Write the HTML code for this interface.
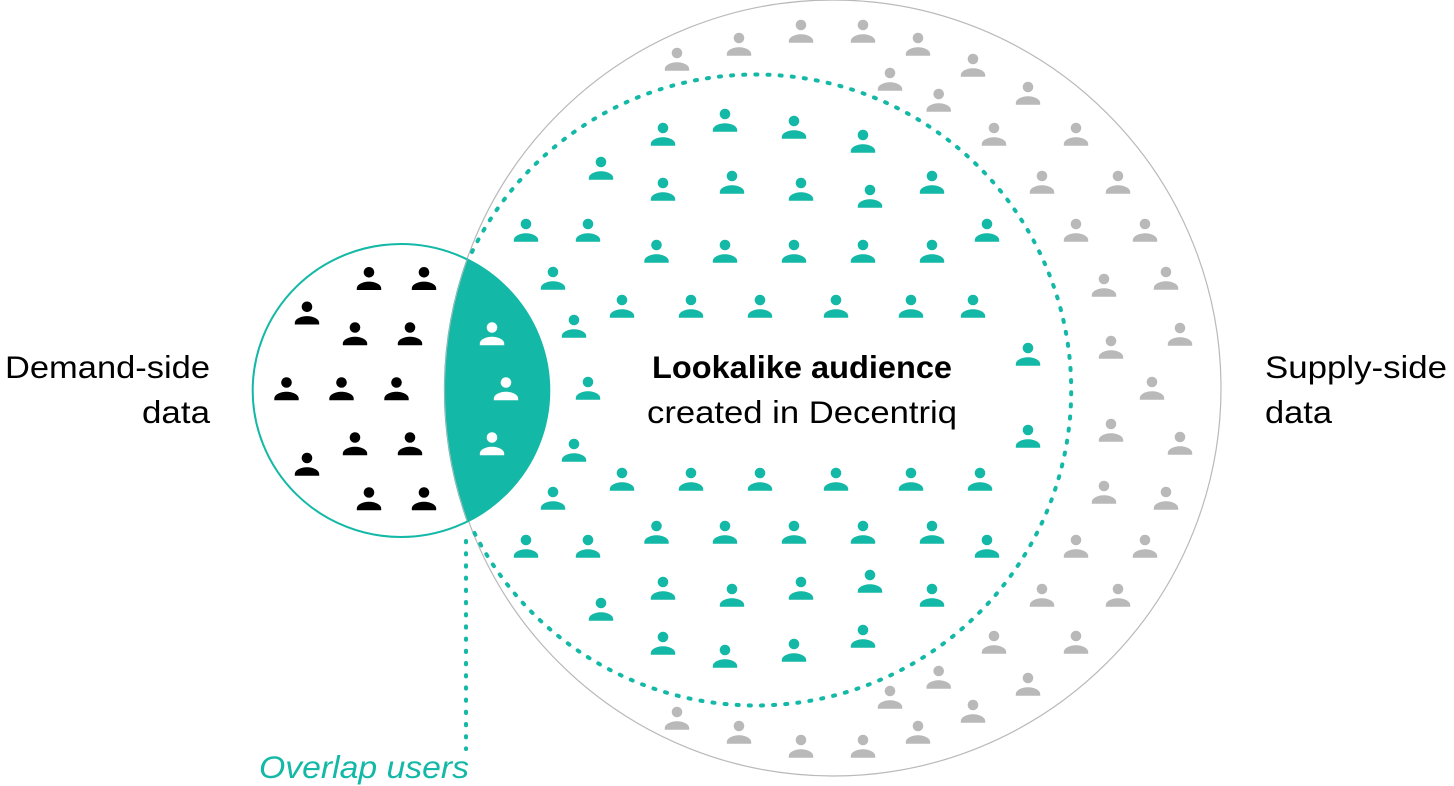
<!DOCTYPE html>
<html>
<head>
<meta charset="utf-8">
<style>
html,body{margin:0;padding:0;background:#fff;width:1454px;height:786px;overflow:hidden}
svg{display:block}
text{font-family:"Liberation Sans",sans-serif;font-size:31.5px;fill:#000}
</style>
</head>
<body>
<svg width="1454" height="786" viewBox="0 0 1454 786" xmlns="http://www.w3.org/2000/svg">
<defs>
<g id="p"><circle cx="0" cy="0" r="5.3"/><path d="M-12.2 17.7V16.2C-12.2 12-6 9.3 0 9.3S12.2 12 12.2 16.2V17.7Z"/></g>
</defs>
<circle cx="833" cy="388" r="388" fill="none" stroke="#b9b9b9" stroke-width="1.2"/>
<ellipse cx="401" cy="390.5" rx="148.3" ry="146.5" fill="#fff" stroke="#14b8a6" stroke-width="2"/>
<path d="M467.3 259.3A148.3 146.5 0 0 1 467.3 520.7A388 388 0 0 1 467.3 259.3Z" fill="#14b8a6" stroke="#14b8a6" stroke-width="1.5" stroke-linejoin="round"/>
<path d="M467.3 520.7A388 388 0 0 1 467.3 259.3" fill="none" stroke="#b9b9b9" stroke-width="0.8"/>
<path d="M472 252A315.5 315.5 0 1 1 472 528" fill="none" stroke="#14b8a6" stroke-width="4" stroke-linecap="round" stroke-dasharray="2 10.15"/>
<path d="M466 541V749" fill="none" stroke="#14b8a6" stroke-width="4" stroke-linecap="round" stroke-dasharray="1.2 11"/>

<g fill="#b9b9b9">
<use href="#p" x="677" y="53"/><use href="#p" x="739" y="38"/><use href="#p" x="801" y="25"/><use href="#p" x="863" y="25"/><use href="#p" x="918" y="38"/><use href="#p" x="973" y="59"/><use href="#p" x="890" y="73"/><use href="#p" x="938.7" y="94"/><use href="#p" x="1028" y="87"/><use href="#p" x="994" y="128"/><use href="#p" x="1076" y="128"/><use href="#p" x="1042" y="176"/><use href="#p" x="1118" y="176"/><use href="#p" x="1076" y="224"/><use href="#p" x="1145" y="224"/><use href="#p" x="1104" y="279"/><use href="#p" x="1166" y="272"/><use href="#p" x="1111" y="341"/><use href="#p" x="1180" y="328"/><use href="#p" x="1152" y="382"/><use href="#p" x="1111" y="424"/><use href="#p" x="1180" y="437"/><use href="#p" x="1104" y="486"/><use href="#p" x="1166" y="492"/><use href="#p" x="1076" y="540"/><use href="#p" x="1145" y="540"/><use href="#p" x="1042" y="589"/><use href="#p" x="1118" y="589"/><use href="#p" x="994" y="636"/><use href="#p" x="1076" y="636"/><use href="#p" x="1028" y="678"/><use href="#p" x="938.7" y="671"/><use href="#p" x="890" y="691"/><use href="#p" x="973" y="705"/><use href="#p" x="918" y="726"/><use href="#p" x="677" y="712"/><use href="#p" x="739" y="726"/><use href="#p" x="801" y="740"/><use href="#p" x="863" y="740"/>
</g>
<g fill="#14b8a6">
<use href="#p" x="725" y="114"/><use href="#p" x="794" y="121"/><use href="#p" x="663" y="128"/><use href="#p" x="863" y="135"/><use href="#p" x="601" y="162"/><use href="#p" x="732" y="176"/><use href="#p" x="663" y="183"/><use href="#p" x="801" y="183"/><use href="#p" x="932" y="176"/><use href="#p" x="870" y="190"/><use href="#p" x="526" y="224"/><use href="#p" x="588" y="224"/><use href="#p" x="987" y="224"/><use href="#p" x="656.5" y="245"/><use href="#p" x="725" y="245"/><use href="#p" x="794" y="245"/><use href="#p" x="863" y="245"/><use href="#p" x="932" y="245"/><use href="#p" x="553" y="272"/><use href="#p" x="622" y="300"/><use href="#p" x="691" y="300"/><use href="#p" x="760" y="300"/><use href="#p" x="836" y="300"/><use href="#p" x="911" y="300"/><use href="#p" x="973" y="300"/><use href="#p" x="574" y="320"/><use href="#p" x="1028" y="348"/><use href="#p" x="588" y="382"/><use href="#p" x="1028" y="430"/><use href="#p" x="574" y="444"/><use href="#p" x="622" y="473"/><use href="#p" x="691" y="473"/><use href="#p" x="760" y="473"/><use href="#p" x="836" y="473"/><use href="#p" x="911" y="473"/><use href="#p" x="980" y="473"/><use href="#p" x="553" y="492"/><use href="#p" x="526" y="540"/><use href="#p" x="588" y="540"/><use href="#p" x="656.5" y="526"/><use href="#p" x="725" y="526"/><use href="#p" x="794" y="526"/><use href="#p" x="863" y="526"/><use href="#p" x="932" y="526"/><use href="#p" x="987" y="540"/><use href="#p" x="663" y="582"/><use href="#p" x="732" y="589"/><use href="#p" x="801" y="582"/><use href="#p" x="870" y="575"/><use href="#p" x="932" y="589"/><use href="#p" x="601" y="603"/><use href="#p" x="663" y="637"/><use href="#p" x="725" y="650"/><use href="#p" x="794" y="644"/><use href="#p" x="863" y="630"/>
</g>
<g fill="#000">
<use href="#p" x="369" y="272.3"/><use href="#p" x="424" y="272.3"/><use href="#p" x="307" y="306.8"/><use href="#p" x="355" y="327.5"/><use href="#p" x="410" y="327.5"/><use href="#p" x="286.5" y="382.5"/><use href="#p" x="341.5" y="382.5"/><use href="#p" x="396.5" y="382.5"/><use href="#p" x="355" y="437.5"/><use href="#p" x="410" y="437.5"/><use href="#p" x="307" y="458"/><use href="#p" x="369" y="492.5"/><use href="#p" x="424" y="492.5"/>
</g>
<g fill="#fff">
<use href="#p" x="492" y="327.5"/><use href="#p" x="506" y="382.5"/><use href="#p" x="492" y="437.5"/>
</g>

<text x="5" y="378" textLength="205" lengthAdjust="spacingAndGlyphs">Demand-side</text>
<text x="142" y="423" textLength="68" lengthAdjust="spacingAndGlyphs">data</text>
<text x="1265" y="378" textLength="182" lengthAdjust="spacingAndGlyphs">Supply-side</text>
<text x="1265" y="423" textLength="67" lengthAdjust="spacingAndGlyphs">data</text>
<text x="652" y="378" textLength="300" lengthAdjust="spacingAndGlyphs" style="font-weight:700">Lookalike audience</text>
<text x="647" y="423" textLength="310" lengthAdjust="spacingAndGlyphs">created in Decentriq</text>
<text x="259" y="778" textLength="210" lengthAdjust="spacingAndGlyphs" style="font-style:italic;fill:#14b8a6">Overlap users</text>
</svg>
</body>
</html>
